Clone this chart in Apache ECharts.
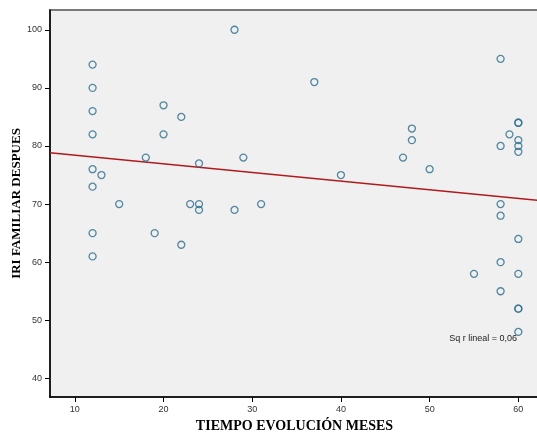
<!DOCTYPE html>
<html>
<head>
<meta charset="utf-8">
<script src="https://cdn.jsdelivr.net/npm/echarts@6/dist/echarts.min.js"></script>
<style>
  html, body { margin: 0; padding: 0; background: #ffffff; }
  #chart { width: 537px; height: 436px; }
</style>
</head>
<body>
<div id="chart"></div>
<script>
// Months since onset (x) and family IRI score afterwards (y), one entry per patient
const tiempoMeses = [
  12, 12, 12, 12, 12, 12, 12, 12,
  13, 15, 18, 19, 20, 20, 22, 22, 23, 24, 24, 24,
  28, 28, 29, 31, 37, 40, 47, 48, 48, 50, 55,
  58, 58, 58, 58, 58, 58, 59,
  60, 60, 60, 60, 60, 60, 60, 60, 60, 60
];
const iriFamiliar = [
  94, 90, 86, 82, 76, 73, 65, 61,
  75, 70, 78, 65, 87, 82, 85, 63, 70, 77, 70, 69,
  100, 69, 78, 70, 91, 75, 78, 83, 81, 76, 58,
  95, 80, 70, 68, 60, 55, 82,
  84, 84, 81, 80, 79, 64, 58, 52, 52, 48
];
const xTicks = [10, 20, 30, 40, 50, 60];
const yTicks = [40, 50, 60, 70, 80, 90, 100];
const fitLabel = 'Sq r lineal = 0,06';

const xMin = 7.2, xMax = 62.33;
const yMin = 36.8, yMax = 103.4;

// Ordinary least-squares fit line
const n = tiempoMeses.length;
const mx = tiempoMeses.reduce((a, b) => a + b, 0) / n;
const my = iriFamiliar.reduce((a, b) => a + b, 0) / n;
let sxy = 0, sxx = 0;
for (let i = 0; i < n; i++) {
  sxy += (tiempoMeses[i] - mx) * (iriFamiliar[i] - my);
  sxx += (tiempoMeses[i] - mx) * (tiempoMeses[i] - mx);
}
const slope = sxy / sxx;
const intercept = my - slope * mx;
const fitPoints = [[xMin, intercept + slope * xMin], [xMax, intercept + slope * xMax]];

const points = tiempoMeses.map((x, i) => [x, iriFamiliar[i]]);

const chart = echarts.init(document.getElementById('chart'), null, { renderer: 'canvas' });
const tickFont = { fontFamily: 'Liberation Sans', fontSize: 9, color: '#333333' };

chart.setOption({
  animation: false,
  backgroundColor: '#ffffff',
  grid: {
    left: 50, top: 10, width: 489, height: 387,
    outerBoundsMode: 'none', containLabel: false,
    show: true, backgroundColor: '#f0f0f0',
    borderColor: '#7a7a7a', borderWidth: 2
  },
  xAxis: {
    type: 'value', min: xMin, max: xMax,
    splitLine: { show: false },
    axisLine: { show: true, onZero: false, lineStyle: { color: '#000', width: 1.5 } },
    axisTick: { show: true, length: 5, customValues: xTicks, lineStyle: { color: '#000' } },
    axisLabel: Object.assign({ customValues: xTicks, margin: 8 }, tickFont),
    name: 'TIEMPO EVOLUCIÓN MESES', nameLocation: 'middle', nameGap: 22,
    nameMoveOverlap: false,
    nameTextStyle: { fontFamily: 'Liberation Serif', fontWeight: 'bold', fontSize: 14, color: '#000' }
  },
  yAxis: {
    type: 'value', min: yMin, max: yMax,
    splitLine: { show: false },
    axisLine: { show: true, onZero: false, lineStyle: { color: '#000', width: 1.5 } },
    axisTick: { show: true, length: 5, customValues: yTicks, lineStyle: { color: '#000' } },
    axisLabel: Object.assign({ customValues: yTicks, margin: 8 }, tickFont),
    name: 'IRI FAMILIAR DESPUES', nameLocation: 'middle', nameGap: 27,
    nameMoveOverlap: false,
    nameTextStyle: { fontFamily: 'Liberation Serif', fontWeight: 'bold', fontSize: 13, color: '#000' }
  },
  series: [
    {
      type: 'line', data: fitPoints, symbol: 'none', silent: true,
      lineStyle: { color: '#b01a1e', width: 1.5 }, z: 2
    },
    {
      type: 'scatter', data: points, symbol: 'circle', symbolSize: 7,
      itemStyle: { color: 'rgba(0,0,0,0)', borderColor: '#2b6d8c', borderWidth: 1.3 }, z: 3
    }
  ],
  graphic: [{
    type: 'text', right: 20, top: 334,
    style: { text: fitLabel, fontFamily: 'Liberation Sans', fontSize: 9, fill: '#222' }
  }]
});
</script>
</body>
</html>
